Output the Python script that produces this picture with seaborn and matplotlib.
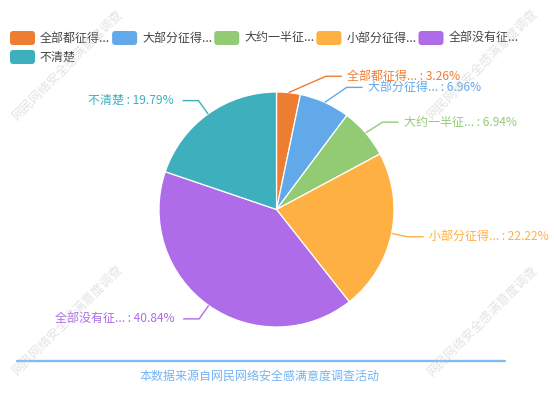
import numpy as np
import matplotlib
matplotlib.use('Agg')
import matplotlib.pyplot as plt
import seaborn as sns
from matplotlib.patches import FancyBboxPatch
from matplotlib.lines import Line2D

# data
categories = ['全部都征得...', '大部分征得...', '大约一半征...', '小部分征得...', '全部没有征...', '不清楚']
percentages = [3.26, 6.96, 6.94, 22.22, 40.84, 19.79]
colors = ['#ED7D31', '#62A9E9', '#93CB74', '#FFB043', '#AE6CE8', '#3DAFBD']
footer = '本数据来源自网民网络安全感满意度调查活动'
watermark = '网民网络安全感满意度调查'

sns.set_theme(style='white')
plt.rcParams['font.family'] = ['Noto Sans CJK SC', 'DejaVu Sans']

W, H, DPI = 554, 394, 100
PX = 72 / DPI  # points per pixel
fig = plt.figure(figsize=(W / DPI, H / DPI), dpi=DPI)
fig.patch.set_facecolor('white')

# pie geometry in pixels
cx, cy, r = 276.5, 209.5, 117.5
ax = fig.add_axes([0, 0, 1, 1])

wedges, _ = ax.pie(percentages, colors=colors, startangle=90, counterclock=False,
                   radius=1, wedgeprops=dict(edgecolor='white', linewidth=0.9))
ax.set_xlim(-cx / r, (W - cx) / r)
ax.set_ylim(-(H - cy) / r, cy / r)
ax.axis('off')

# label layout (echarts style leader lines)
len1 = 0.14
len2 = 16 / r
line_h = 14 / r
rA = 1 + len1
items = []
for w, name, pct, col in zip(wedges, categories, percentages, colors):
    mid = np.deg2rad((w.theta1 + w.theta2) / 2)
    sx, sy = np.cos(mid), np.sin(mid)
    bx, by = rA * sx, rA * sy
    items.append(dict(name=name, pct=pct, col=col, sx=sx, sy=sy, bx=bx, by=by,
                      side=1 if sx >= 0 else -1))

# crowded labels on the same side/semicircle: spread along an ellipse
for side in (1, -1):
    for semi in (1, -1):
        grp = [it for it in items if it['side'] == side and np.sign(it['by']) == semi]
        grp.sort(key=lambda it: -abs(it['by']))
        crowded = any(abs(a['by'] - b['by']) < line_h for a, b in zip(grp, grp[1:]))
        if crowded:
            rB = 1.07 * rA
            for it in grp:
                dy = abs(it['by'])
                it['bx'] = side * np.sqrt(max(0.0, 1 - dy * dy / rB / rB)) * rA

for it in items:
    ex = it['bx'] + it['side'] * len2
    gap = (5 if it['side'] > 0 else 9) / r
    ax.plot([it['sx'], it['bx'], ex], [it['sy'], it['by'], it['by']],
            color=it['col'], lw=1.0, solid_capstyle='butt')
    ax.text(ex + it['side'] * gap, it['by'], f"{it['name']} : {it['pct']:.2f}%",
            color=it['col'], fontsize=12 * PX, ha='left' if it['side'] > 0 else 'right',
            va='center')


# legend with rounded swatches, laid out left to right
def legend_row(names, cols, x0, ytop):
    x = x0
    fig.canvas.draw()
    renderer = fig.canvas.get_renderer()
    for name, col in zip(names, cols):
        sw = FancyBboxPatch((x / W, 1 - (ytop + 14) / H), 25 / W, 14 / H,
                            boxstyle='round,pad=0,rounding_size=0.006',
                            transform=fig.transFigure, facecolor=col, edgecolor='none',
                            mutation_aspect=W / H)
        fig.add_artist(sw)
        t = fig.text((x + 30) / W, 1 - (ytop + 7) / H, name, fontsize=12 * PX,
                     color='#444444', ha='left', va='center')
        bb = t.get_window_extent(renderer)
        x = x + 30 + bb.width + 2


legend_row(categories[:5], colors[:5], 10, 31)
legend_row(categories[5:], colors[5:], 10, 50)

# footer
fig.add_artist(Line2D([17 / W, 505 / W], [1 - 361 / H, 1 - 361 / H], color='#7DBBF8',
                      lw=2.3 * PX, transform=fig.transFigure))
fig.text(260 / W, 1 - 376 / H, footer, fontsize=12 * PX, color='#74B4F4',
         ha='center', va='center')

# watermarks
for wx, wy in [(67, 65), (482, 64), (67, 320), (482, 321)]:
    fig.text(wx / W, 1 - wy / H, watermark, fontsize=12.5 * PX, color='#c8c8c8',
             alpha=0.5, rotation=45, rotation_mode='anchor', ha='center', va='center',
             zorder=10)

fig.savefig('out.png', dpi=DPI, facecolor='white')
